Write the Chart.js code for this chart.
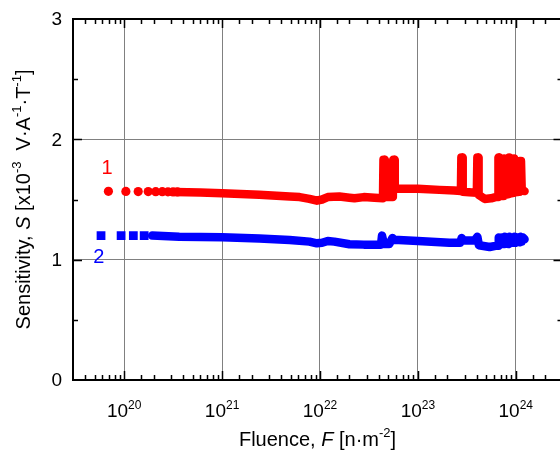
<!DOCTYPE html>
<html>
<head>
<meta charset="utf-8">
<script src="https://cdn.jsdelivr.net/npm/chart.js@4"></script>
<style>
    html, body { margin: 0; padding: 0; background: #fff; overflow: hidden; }
    #wrap { width: 570px; height: 452px; }
</style>
</head>
<body>
<div id="wrap"><canvas id="sensChart" width="570" height="452"></canvas></div>
<script>
// Sample 1 (red): separate early readings, then the continuous record
const redDotsF = [6.9e19, 1.04e20, 1.39e20, 1.76e20, 2.1e20, 2.45e20, 2.8e20, 3.15e20, 3.5e20];
const redDotsS = [1.568, 1.567, 1.566, 1.566, 1.565, 1.565, 1.564, 1.563, 1.563];
const redTraceF = [3.3e20, 6e20, 1e21, 2.4e21, 4.9e21, 6.2e21, 7.8e21, 9.3e21, 1.05e22, 1.2e22,
    1.58e22, 2e22, 2.25e22, 2.8e22, 3.6e22, 4.4e22, 4.45e22, 4.55e22, 4.6e22, 5.2e22,
    5.55e22, 5.6e22, 5.75e22, 5.8e22, 7e22, 1e23, 1.66e23, 2.35e23, 2.75e23, 2.78e23,
    2.84e23, 2.87e23, 3.35e23, 4.0e23, 4.05e23, 4.12e23, 4.17e23, 4.8e23, 5.6e23, 6.2e23,
    6.6e23, 6.65e23, 6.75e23, 6.8e23, 7.5e23, 7.6e23, 7.75e23, 7.8e23, 8.5e23, 8.55e23,
    8.7e23, 8.75e23, 9.5e23, 9.6e23, 9.8e23, 9.85e23, 1.08e24, 1.1e24, 1.13e24, 1.15e24, 1.23e24];
const redTraceS = [1.562, 1.558, 1.552, 1.54, 1.525, 1.52, 1.505, 1.49, 1.50, 1.52,
    1.525, 1.515, 1.51, 1.52, 1.515, 1.51, 1.83, 1.83, 1.52, 1.52,
    1.52, 1.83, 1.83, 1.59, 1.59, 1.59, 1.58, 1.575, 1.57, 1.85,
    1.85, 1.565, 1.56, 1.555, 1.85, 1.85, 1.54, 1.505, 1.51, 1.52,
    1.52, 1.85, 1.85, 1.53, 1.53, 1.84, 1.84, 1.54, 1.545, 1.85,
    1.85, 1.55, 1.555, 1.84, 1.84, 1.56, 1.565, 1.82, 1.82, 1.58, 1.57];

// Sample 2 (blue)
const blueDotsF = [5.8e19, 9.3e19, 1.24e20, 1.6e20];
const blueDotsS = [1.200, 1.200, 1.199, 1.199];
const blueTraceF = [1.93e20, 3.65e20, 1e21, 2.4e21, 4.9e21, 7.8e21, 9.3e21, 1.05e22, 1.2e22, 1.4e22,
    2e22, 2.8e22, 4.2e22, 4.3e22, 4.4e22, 4.5e22, 5.1e22, 5.5e22, 5.7e22, 1e23,
    2.1e23, 2.7e23, 2.8e23, 2.9e23, 3.8e23, 4.05e23, 4.2e23, 5.4e23, 6.2e23, 6.6e23,
    6.7e23, 6.9e23, 7.2e23, 7.6e23, 7.7e23, 7.9e23, 8.2e23, 8.5e23, 8.6e23, 8.9e23,
    9.2e23, 9.6e23, 9.7e23, 1.0e24, 1.05e24, 1.1e24, 1.12e24, 1.15e24, 1.18e24, 1.23e24];
const blueTraceS = [1.200, 1.19, 1.186, 1.175, 1.164, 1.15, 1.136, 1.14, 1.155, 1.15,
    1.128, 1.125, 1.125, 1.20, 1.20, 1.13, 1.13, 1.18, 1.165, 1.155,
    1.14, 1.14, 1.18, 1.16, 1.16, 1.19, 1.12, 1.105, 1.115, 1.115,
    1.185, 1.125, 1.185, 1.13, 1.19, 1.135, 1.185, 1.13, 1.19, 1.14,
    1.185, 1.14, 1.19, 1.14, 1.185, 1.145, 1.19, 1.15, 1.185, 1.17];

const decades = [20, 21, 22, 23, 24];
const sTicks = [0, 1, 2, 3];

const RED = '#ff0000';
const BLUE = '#0000ff';
const FAMILY = '"Liberation Sans", Arial, Helvetica, sans-serif';

function toPoints(fs, ss) {
    return fs.map((f, i) => ({ x: f, y: ss[i] }));
}

function isDecade(v) {
    const l = Math.log10(v);
    return Math.abs(l - Math.round(l)) < 1e-6;
}

// draws a run of text pieces (normal / italic / superscript) in one line
function drawRich(ctx, parts, x, y) {
    let width = 0;
    parts.forEach(p => {
        ctx.font = `${p.italic ? 'italic ' : ''}${p.size}px ${FAMILY}`;
        p.w = ctx.measureText(p.t).width;
        width += p.w;
    });
    let cx = x - width / 2;
    parts.forEach(p => {
        ctx.font = `${p.italic ? 'italic ' : ''}${p.size}px ${FAMILY}`;
        ctx.fillText(p.t, cx, y - (p.up || 0));
        cx += p.w;
    });
}

const axesFrame = {
    id: 'axesFrame',
    afterDraw(chart) {
        const { ctx, chartArea: a, scales: { x, y } } = chart;
        ctx.save();

        // inward tick marks on all four sides
        ctx.strokeStyle = '#000';
        ctx.lineWidth = 1.5;
        ctx.beginPath();
        x.ticks.forEach(t => {
            const px = Math.round(x.getPixelForValue(t.value)) + 0.5;
            if (px <= a.left + 1 || px >= a.right - 1) return;
            const len = isDecade(t.value) ? 9 : 5;
            ctx.moveTo(px, a.bottom); ctx.lineTo(px, a.bottom - len);
            ctx.moveTo(px, a.top); ctx.lineTo(px, a.top + len);
        });
        y.ticks.forEach(t => {
            const py = Math.round(y.getPixelForValue(t.value)) + 0.5;
            if (py <= a.top + 1 || py >= a.bottom - 1) return;
            const len = Number.isInteger(t.value) ? 9 : 5;
            ctx.moveTo(a.left, py); ctx.lineTo(a.left + len, py);
            ctx.moveTo(a.right, py); ctx.lineTo(a.right - len, py);
        });
        ctx.stroke();

        ctx.lineWidth = 2;
        ctx.strokeRect(a.left, a.top, a.right - a.left, a.bottom - a.top);

        // tick labels
        ctx.fillStyle = '#000';
        ctx.textBaseline = 'alphabetic';
        decades.forEach(d => {
            const px = x.getPixelForValue(Math.pow(10, d));
            drawRich(ctx, [
                { t: '10', size: 19 },
                { t: String(d), size: 12, up: 8 }
            ], px, 417);
        });
        ctx.textAlign = 'right';
        ctx.textBaseline = 'middle';
        ctx.font = `19px ${FAMILY}`;
        sTicks.forEach(s => {
            ctx.fillText(String(s), a.left - 11, y.getPixelForValue(s) + 1);
        });

        // axis titles
        ctx.textAlign = 'left';
        ctx.textBaseline = 'alphabetic';
        drawRich(ctx, [
            { t: 'Fluence, ', size: 20 },
            { t: 'F', size: 20, italic: true },
            { t: ' [n\u00b7m', size: 20 },
            { t: '-2', size: 13, up: 9 },
            { t: ']', size: 20 }
        ], (a.left + 560) / 2 + 1, 446);

        ctx.save();
        ctx.translate(30, (a.top + a.bottom) / 2);
        ctx.rotate(-Math.PI / 2);
        drawRich(ctx, [
            { t: 'Sensitivity, ', size: 20 },
            { t: 'S', size: 20, italic: true },
            { t: ' [x10', size: 20 },
            { t: '-3', size: 13, up: 9 },
            { t: '  V\u00b7A', size: 20 },
            { t: '-1', size: 13, up: 9 },
            { t: '\u00b7T', size: 20 },
            { t: '-1', size: 13, up: 9 },
            { t: ']', size: 20 }
        ], 0, 0);
        ctx.restore();

        // sample numbers
        ctx.font = `20px ${FAMILY}`;
        ctx.textAlign = 'center';
        ctx.textBaseline = 'middle';
        ctx.fillStyle = RED;
        ctx.fillText('1', x.getPixelForValue(6.7e19), y.getPixelForValue(1.755));
        ctx.fillStyle = BLUE;
        ctx.fillText('2', x.getPixelForValue(5.5e19), y.getPixelForValue(1.02));

        ctx.restore();
    }
};

const ctx = document.getElementById('sensChart').getContext('2d');

new Chart(ctx, {
    type: 'scatter',
    data: {
        datasets: [
            {
                data: toPoints(blueTraceF, blueTraceS),
                showLine: true,
                borderColor: BLUE,
                borderWidth: 8.5,
                borderJoinStyle: 'round',
                borderCapStyle: 'round',
                pointRadius: 0
            },
            {
                data: toPoints(blueDotsF, blueDotsS),
                pointStyle: 'rect',
                pointRadius: 6.2,
                backgroundColor: BLUE,
                borderWidth: 0
            },
            {
                data: toPoints(redTraceF, redTraceS),
                showLine: true,
                borderColor: RED,
                borderWidth: 8.5,
                borderJoinStyle: 'round',
                borderCapStyle: 'round',
                pointRadius: 0
            },
            {
                data: toPoints(redDotsF, redDotsS),
                pointStyle: 'circle',
                pointRadius: 4.6,
                backgroundColor: RED,
                borderWidth: 0
            }
        ]
    },
    options: {
        responsive: false,
        animation: false,
        devicePixelRatio: 1,
        layout: { padding: { left: 73, top: 19, right: 7.5, bottom: 72 } },
        plugins: {
            legend: { display: false },
            tooltip: { enabled: false }
        },
        scales: {
            x: {
                type: 'logarithmic',
                min: 3e19,
                max: 3e24,
                ticks: { display: false },
                border: { display: false },
                grid: {
                    drawTicks: false,
                    lineWidth: 1,
                    color: c => (c.tick && isDecade(c.tick.value) ? '#808080' : 'rgba(0,0,0,0)')
                }
            },
            y: {
                min: 0,
                max: 3,
                ticks: { display: false, stepSize: 0.5 },
                border: { display: false },
                grid: {
                    drawTicks: false,
                    lineWidth: 1,
                    color: c => (c.tick && (c.tick.value === 1 || c.tick.value === 2) ? '#808080' : 'rgba(0,0,0,0)')
                }
            }
        }
    },
    plugins: [axesFrame]
});
</script>
</body>
</html>
